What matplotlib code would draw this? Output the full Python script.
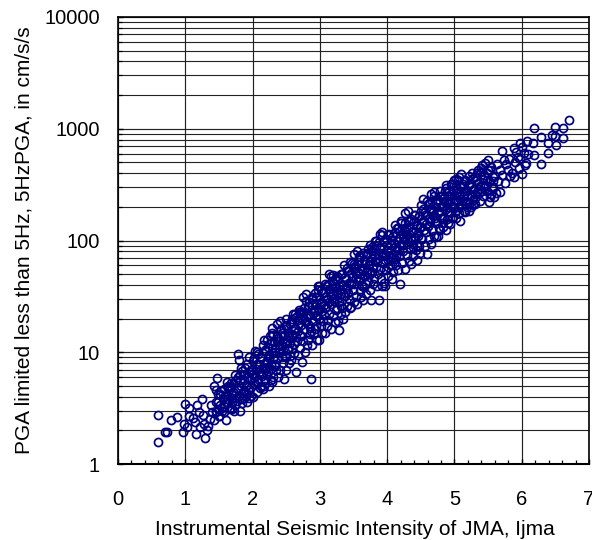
import matplotlib
matplotlib.use('Agg')
import matplotlib.pyplot as plt
from matplotlib.ticker import FixedLocator, NullFormatter, FuncFormatter

plt.rcParams['font.family'] = ['Liberation Sans', 'DejaVu Sans']

x_label = 'Instrumental Seismic Intensity of JMA, Ijma'
y_label = 'PGA limited less than 5Hz, 5HzPGA, in cm/s/s'
x_ticks = [0, 1, 2, 3, 4, 5, 6, 7]
y_ticks = [1, 10, 100, 1000, 10000]

# values, one pair of rows per stretch of intensity
ijma = [
    .59, .59, .70, .73, .79, .87, .96, .99, .98, 1.06,
    1.06, 1.03, 1.16, 1.30, 1.18, 1.25, 1.12, 1.20, 1.28, 1.32,
    1.15, 1.22, 1.27, 1.34, 1.36, 1.40, 1.43, 1.46, 1.47, 1.38,
    1.42, 1.45, 1.48, 1.50, 1.52, 1.55, 1.58, 1.60, 1.62, 1.64,
    1.66, 1.68, 1.70, 1.71, 1.73, 1.74, 1.76, 1.79, 1.80, 1.82,
    1.77, 1.81, 1.83, 1.84, 1.86, 1.87, 1.88, 1.90, 1.91, 1.92,
    1.93, 1.94, 1.96, 1.97, 1.98, 2.00, 2.01, 2.02, 2.03, 2.05,
    2.06, 2.07, 2.08, 2.10, 2.11, 2.12, 2.13, 2.15, 2.16, 2.17,
    2.18, 2.19, 2.20, 2.21, 2.22, 2.23, 2.24, 2.25, 2.26, 2.27,
    2.28, 2.29, 2.29, 2.29, 2.30, 2.31, 2.32, 2.33, 2.34, 2.35,
    2.36, 2.37, 2.38, 2.39, 2.40, 2.41, 2.42, 2.43, 2.44, 2.45,
    2.46, 2.47, 2.48, 2.49, 2.50, 2.50, 2.51, 2.52, 2.53, 2.54,
    2.55, 2.56, 2.57, 2.58, 2.59, 2.60, 2.61, 2.62, 2.63, 2.65,
    2.66, 2.67, 2.68, 2.69, 2.70, 2.71, 2.72, 2.73, 2.74, 2.75,
    2.76, 2.77, 2.78, 2.79, 2.80, 2.81, 2.82, 2.83, 2.84, 2.85,
    2.86, 2.87, 2.88, 2.88, 2.89, 2.90, 2.91, 2.92, 2.93, 2.94,
    2.95, 2.96, 2.97, 2.97, 2.98, 2.99, 3.00, 3.01, 3.02, 3.03,
    3.04, 3.05, 3.06, 3.07, 3.08, 3.09, 3.10, 3.11, 3.12, 3.13,
    3.14, 3.15, 3.16, 3.17, 3.18, 3.19, 3.20, 3.21, 3.22, 3.23,
    3.24, 3.25, 3.26, 3.27, 3.28, 3.29, 3.30, 3.31, 3.32, 3.33,
    3.34, 3.35, 3.36, 3.37, 3.38, 3.39, 3.40, 3.41, 3.42, 3.43,
    3.44, 3.45, 3.46, 3.47, 3.48, 3.49, 3.50, 3.51, 3.52, 3.53,
    3.54, 3.55, 3.56, 3.57, 3.58, 3.59, 3.60, 3.61, 3.62, 3.63,
    3.64, 3.65, 3.66, 3.67, 3.68, 3.69, 3.70, 3.71, 3.72, 3.73,
    3.74, 3.75, 3.76, 3.77, 3.78, 3.79, 3.80, 3.81, 3.82, 3.83,
    3.84, 3.85, 3.86, 3.87, 3.88, 3.89, 3.90, 3.91, 3.92, 3.93,
    3.93, 3.94, 3.95, 3.96, 3.97, 3.98, 3.99, 4.00, 4.01, 4.02,
    4.03, 4.04, 4.05, 4.06, 4.07, 4.08, 4.09, 4.10, 4.11, 4.12,
    4.13, 4.14, 4.15, 4.16, 4.17, 4.18, 4.19, 4.20, 4.21, 4.22,
    4.23, 4.24, 4.25, 4.26, 4.27, 4.28, 4.29, 4.30, 4.31, 4.32,
    4.33, 4.34, 4.35, 4.36, 4.37, 4.38, 4.39, 4.40, 4.41, 4.42,
    4.43, 4.44, 4.45, 4.46, 4.47, 4.48, 4.49, 4.50, 4.51, 4.52,
    4.54, 4.55, 4.56, 4.57, 4.58, 4.59, 4.60, 4.61, 4.62, 4.63,
    4.64, 4.65, 4.66, 4.67, 4.68, 4.69, 4.70, 4.71, 4.72, 4.73,
    4.74, 4.75, 4.76, 4.77, 4.78, 4.79, 4.80, 4.81, 4.82, 4.83,
    4.84, 4.85, 4.86, 4.87, 4.88, 4.89, 4.90, 4.91, 4.92, 4.93,
    4.94, 4.95, 4.96, 4.97, 4.98, 4.99, 5.00, 5.01, 5.02, 5.03,
    5.04, 5.05, 5.06, 5.07, 5.08, 5.09, 5.10, 5.11, 5.12, 5.13,
    5.14, 5.15, 5.16, 5.17, 5.18, 5.19, 5.21, 5.22, 5.24, 5.25,
    5.27, 5.28, 5.30, 5.31, 5.33, 5.35, 5.36, 5.38, 5.39, 5.41,
    5.43, 5.44, 5.46, 5.48, 5.50, 5.51, 5.53, 5.55, 5.57, 5.58,
    5.60, 5.62, 5.64, 5.65, 5.67, 5.68, 5.70, 5.71, 5.73, 5.75,
    5.77, 5.79, 5.81, 5.83, 5.85, 5.88, 5.88, 5.90, 5.92, 5.94,
    5.96, 5.97, 5.98, 6.00, 6.01, 6.03, 6.05, 6.06, 6.08, 6.10,
    6.17, 6.19, 6.19, 6.29, 6.29, 6.39, 6.39, 6.45, 6.49, 6.50,
    6.51, 6.61, 6.61, 6.71,
]

pga = [
    2.73, 1.58, 1.93, 1.93, 2.46, 2.64, 1.93, 3.46, 2.28, 2.70,
    3.20, 2.16, 1.87, 1.70, 3.35, 3.84, 2.60, 2.90, 2.30, 2.00,
    2.40, 2.15, 2.75, 2.20, 2.55, 2.90, 5.00, 4.60, 5.90, 3.40,
    2.50, 3.00, 3.60, 2.70, 4.20, 3.20, 2.90, 2.50, 3.80, 4.80,
    3.10, 5.30, 3.60, 4.40, 3.00, 6.20, 3.90, 9.60, 8.60, 3.00,
    4.80, 5.60, 7.20, 3.50, 4.30, 6.30, 3.90, 5.00, 7.90, 3.60,
    4.60, 9.00, 5.70, 4.10, 7.00, 6.40, 4.00, 8.80, 5.20, 7.10,
    10.0, 4.40, 5.80, 7.90, 9.00, 5.00, 6.40, 11.5, 4.70, 12.8,
    8.00, 5.70, 10.2, 6.30, 7.20, 11.2, 5.00, 8.90, 14.0, 5.60,
    7.10, 5.40, 14.9, 16.4, 9.80, 6.00, 12.3, 7.80, 11.0, 6.90,
    8.70, 14.0, 6.00, 10.0, 12.7, 7.00, 16.0, 9.00, 11.3, 8.00,
    5.75, 14.2, 9.20, 17.0, 19.8, 7.00, 12.0, 10.5, 15.0, 8.00,
    13.5, 18.0, 8.50, 11.0, 20.0, 14.0, 9.80, 16.0, 22.0, 6.60,
    12.5, 17.5, 9.50, 24.0, 11.0, 22.6, 14.0, 8.20, 20.0, 12.5,
    25.0, 16.0, 10.0, 18.5, 29.0, 11.5, 21.0, 13.0, 26.0, 16.5,
    14.5, 5.75, 26.5, 31.0, 11.5, 19.0, 23.0, 15.0, 34.0, 17.0,
    21.5, 13.0, 39.0, 36.0, 24.0, 13.0, 30.0, 17.0, 27.0, 15.0,
    19.0, 34.0, 21.5, 15.0, 25.0, 31.0, 17.0, 40.0, 19.5, 28.0,
    22.0, 35.0, 16.0, 27.0, 43.0, 48.9, 21.0, 30.0, 18.5, 38.0,
    24.0, 45.0, 34.0, 19.0, 28.0, 15.8, 36.0, 22.0, 50.0, 25.0,
    40.0, 20.0, 32.0, 47.0, 23.0, 38.0, 53.0, 26.0, 34.0, 42.0,
    30.0, 25.0, 25.6, 51.0, 63.0, 36.0, 41.0, 28.0, 57.0, 46.0,
    32.0, 27.0, 44.0, 62.0, 72.0, 35.0, 50.0, 31.0, 39.0, 56.0,
    29.4, 67.0, 38.0, 48.0, 33.0, 75.0, 54.0, 43.0, 84.0, 60.0,
    36.0, 65.0, 29.4, 52.0, 80.0, 41.0, 72.0, 46.0, 98.0, 58.0,
    90.0, 39.0, 70.0, 50.0, 29.4, 87.0, 56.0, 45.0, 78.0, 39.0,
    112., 63.0, 98.0, 42.0, 39.0, 74.0, 54.0, 92.0, 67.0, 48.0,
    115., 60.0, 82.0, 102., 45.0, 76.0, 52.0, 95.0, 68.0, 118.,
    60.0, 85.0, 129., 55.0, 105., 72.0, 41.0, 91.0, 142., 63.0,
    114., 81.0, 128., 102., 56.0, 118., 74.0, 94.0, 148., 65.0,
    132., 84.0, 105., 62.0, 120., 94.0, 72.0, 150., 106., 170.,
    82.0, 135., 67.0, 117., 90.0, 165., 78.0, 132., 185., 103.,
    236., 148., 90.0, 168., 118., 76.0, 134., 210., 104., 188.,
    150., 94.0, 225., 125., 180., 110., 250., 160., 107., 200.,
    142., 225., 110., 180., 280., 125., 200., 160., 250., 142.,
    225., 160., 280., 314., 125., 200., 142., 250., 180., 225.,
    140., 320., 205., 160., 285., 255., 347., 180., 230., 160.,
    290., 200., 345., 175., 250., 150., 394., 225., 310., 280.,
    185., 350., 225., 285., 200., 255., 378., 315., 200., 300.,
    230., 360., 260., 210., 400., 325., 290., 225., 445., 280.,
    250., 385., 310., 345., 525., 223., 430., 260., 340., 300.,
    380., 265., 480., 340., 430., 274., 635., 385., 530., 330.,
    480., 430., 540., 380., 400., 668., 372., 500., 620., 560.,
    450., 741., 540., 394., 680., 610., 470., 490., 782., 600.,
    751., 1010., 582., 850., 481., 751., 611., 880., 870., 1043.,
    716., 1010., 822., 1200.,
]

# the saturated core of the band, estimated
ijma_core = [
    1.45, 1.46, 1.48, 1.49, 1.50, 1.52, 1.53, 1.54, 1.56, 1.57, 1.58, 1.60, 1.61, 1.63,
    1.62, 1.63, 1.65, 1.66, 1.67, 1.69, 1.70, 1.71, 1.73, 1.74, 1.75, 1.77, 1.78, 1.79,
    1.80, 1.81, 1.83, 1.84, 1.85, 1.87, 1.88, 1.89, 1.91, 1.92, 1.93, 1.95, 1.96, 1.98,
    1.99, 2.00, 2.02, 2.03, 2.04, 2.06, 2.07, 2.08, 2.10, 2.11, 2.12, 2.14, 2.15, 2.17,
    2.18, 2.19, 2.21, 2.22, 2.23, 2.25, 2.26, 2.27, 2.29, 2.30, 2.31, 2.33, 2.34, 2.36,
    2.37, 2.38, 2.40, 2.41, 2.42, 2.44, 2.45, 2.46, 2.48, 2.49, 2.50, 2.52, 2.53, 2.55,
    2.56, 2.57, 2.59, 2.60, 2.61, 2.63, 2.64, 2.65, 2.67, 2.68, 2.69, 2.71, 2.72, 2.74,
    2.75, 2.76, 2.78, 2.79, 2.80, 2.82, 2.83, 2.84, 2.86, 2.87, 2.88, 2.90, 2.91, 2.93,
    2.94, 2.95, 2.97, 2.98, 2.99, 3.01, 3.02, 3.03, 3.05, 3.06, 3.07, 3.09, 3.10, 3.12,
    3.13, 3.14, 3.16, 3.17, 3.18, 3.20, 3.21, 3.22, 3.24, 3.25, 3.26, 3.28, 3.29, 3.31,
    3.32, 3.33, 3.35, 3.36, 3.37, 3.39, 3.40, 3.41, 3.43, 3.44, 3.45, 3.47, 3.48, 3.50,
    3.51, 3.52, 3.54, 3.55, 3.56, 3.58, 3.59, 3.60, 3.62, 3.63, 3.64, 3.66, 3.67, 3.69,
    3.70, 3.71, 3.73, 3.74, 3.75, 3.77, 3.78, 3.79, 3.81, 3.82, 3.83, 3.85, 3.86, 3.88,
    3.89, 3.90, 3.92, 3.93, 3.94, 3.96, 3.97, 3.98, 4.00, 4.01, 4.02, 4.04, 4.05, 4.07,
    4.08, 4.09, 4.11, 4.12, 4.13, 4.15, 4.16, 4.17, 4.19, 4.20, 4.21, 4.23, 4.24, 4.26,
    4.27, 4.28, 4.30, 4.31, 4.32, 4.34, 4.35, 4.36, 4.38, 4.39, 4.40, 4.42, 4.43, 4.45,
    4.46, 4.47, 4.49, 4.50, 4.51, 4.53, 4.54, 4.55, 4.57, 4.58, 4.59, 4.61, 4.62, 4.64,
    4.65, 4.66, 4.68, 4.69, 4.70, 4.72, 4.73, 4.74, 4.76, 4.77, 4.78, 4.80, 4.81, 4.83,
    4.84, 4.85, 4.87, 4.88, 4.89, 4.91, 4.92, 4.93, 4.95, 4.96, 4.97, 4.99, 5.00, 5.02,
    5.03, 5.04, 5.06, 5.07, 5.08, 5.10, 5.11, 5.12, 5.14, 5.15, 5.16, 5.18, 5.19, 5.21,
    5.22, 5.23, 5.25, 5.26, 5.27, 5.29, 5.30, 5.31, 5.33, 5.34, 5.35, 5.37, 5.38, 5.40,
    5.41, 5.42, 5.44, 5.45, 5.46, 5.48, 5.49, 5.50, 5.52, 5.53, 5.54, 5.56, 5.57, 5.59,
]

pga_core = [
    2.9, 3.6, 3.1, 4.2, 2.7, 3.4, 4.5, 3.0, 3.9, 3.3, 4.7, 3.6, 4.1, 5.0,
    5.4, 3.5, 4.6, 3.2, 4.9, 3.9, 3.1, 5.2, 4.3, 3.4, 5.7, 3.7, 4.6, 6.0,
    4.1, 6.2, 5.0, 3.8, 6.8, 4.5, 5.6, 7.3, 4.2, 5.1, 6.0, 3.9, 6.6, 4.9,
    7.0, 8.4, 5.9, 10.2, 6.3, 7.9, 5.5, 9.6, 6.7, 4.8, 8.8, 6.1, 7.4, 5.0,
    7.0, 10.5, 8.3, 13.0, 6.8, 9.4, 12.0, 7.7, 11.0, 8.9, 14.2, 7.5, 10.0, 12.6,
    18.0, 13.4, 10.8, 19.0, 11.8, 15.0, 10.2, 16.0, 12.4, 9.0, 17.5, 11.0, 14.0, 9.2,
    12.0, 18.5, 14.5, 22.0, 11.8, 16.5, 20.5, 13.6, 19.5, 15.4, 23.0, 14.2, 17.6, 22.5,
    31.0, 23.0, 19.5, 33.0, 20.5, 26.0, 18.0, 28.0, 21.5, 15.5, 30.0, 19.0, 24.0, 16.0,
    21.0, 31.0, 25.0, 39.0, 20.0, 28.0, 36.0, 23.5, 34.0, 26.5, 41.0, 25.5, 30.0, 39.0,
    50.0, 37.0, 32.0, 48.0, 33.0, 42.0, 29.0, 45.0, 35.0, 25.0, 48.0, 31.0, 39.0, 26.0,
    33.0, 50.0, 40.0, 60.0, 32.0, 45.0, 57.0, 37.0, 54.0, 42.0, 64.0, 41.0, 47.0, 62.0,
    76.0, 59.0, 50.0, 80.0, 52.0, 67.0, 46.0, 71.0, 55.0, 40.0, 77.0, 49.0, 62.0, 41.0,
    52.0, 78.0, 62.0, 92.0, 50.0, 70.0, 88.0, 58.0, 85.0, 66.0, 98.0, 64.0, 74.0, 96.0,
    115., 86.0, 73.0, 120., 76.0, 98.0, 67.0, 104., 81.0, 58.0, 112., 72.0, 91.0, 60.0,
    74.0, 110., 88.0, 138., 72.0, 100., 129., 83.0, 121., 94.0, 149., 91.0, 107., 143.,
    175., 130., 112., 183., 115., 148., 101., 157., 121., 87.0, 169., 108., 137., 90.0,
    109., 167., 132., 207., 106., 150., 192., 123., 180., 141., 224., 136., 160., 216.,
    260., 193., 165., 271., 170., 217., 150., 232., 181., 129., 249., 160., 202., 133.,
    160., 242., 192., 298., 155., 217., 279., 181., 260., 204., 323., 197., 231., 311.,
    358., 266., 228., 372., 236., 300., 208., 320., 250., 180., 344., 220., 278., 184.,
    214., 324., 256., 398., 211., 289., 370., 242., 347., 273., 429., 265., 308., 413.,
    475., 353., 304., 494., 313., 399., 277., 426., 331., 243., 456., 295., 372., 247.,
]

fig = plt.figure(figsize=(5.92, 5.40), dpi=100)
ax = fig.add_axes([118 / 592, 1 - 464 / 540, 471 / 592, 447 / 540])

ax.set_yscale('log')
ax.set_xlim(0, 7)
ax.set_ylim(1, 10000)

ax.grid(which='major', axis='both', color='#222222', linewidth=0.85, zorder=1)
ax.grid(which='minor', axis='y', color='#222222', linewidth=0.8, zorder=1)
ax.set_axisbelow(True)

for xs, ys in ((ijma, pga), (ijma_core, pga_core)):
    n = min(len(xs), len(ys))
    ax.plot(xs[:n], ys[:n], linestyle='none', marker='o', markersize=5.8,
            markerfacecolor='none', markeredgecolor='#000080',
            markeredgewidth=1.25, zorder=3)

ax.set_xticks(x_ticks)
ax.xaxis.set_minor_locator(FixedLocator([i / 5 for i in range(36)]))
ax.yaxis.set_major_locator(FixedLocator(y_ticks))
ax.yaxis.set_minor_formatter(NullFormatter())
ax.yaxis.set_major_formatter(FuncFormatter(lambda v, pos: '%d' % v))
ax.tick_params(which='major', direction='in', length=3.5, width=1.0, labelsize=14.5)
ax.tick_params(which='minor', direction='in', length=3, width=0.9)
ax.tick_params(axis='y', which='major', pad=13)
ax.tick_params(axis='x', which='major', pad=19)

for spine in ax.spines.values():
    spine.set_linewidth(1.2)
ax.spines['bottom'].set_linewidth(1.5)

ax.set_xlabel(x_label, fontsize=15)
ax.set_ylabel(y_label, fontsize=15)
ax.xaxis.set_label_coords(0.502, -0.125)
ax.yaxis.set_label_coords(-0.18, 0.5)

fig.savefig('out.png', dpi=100)
